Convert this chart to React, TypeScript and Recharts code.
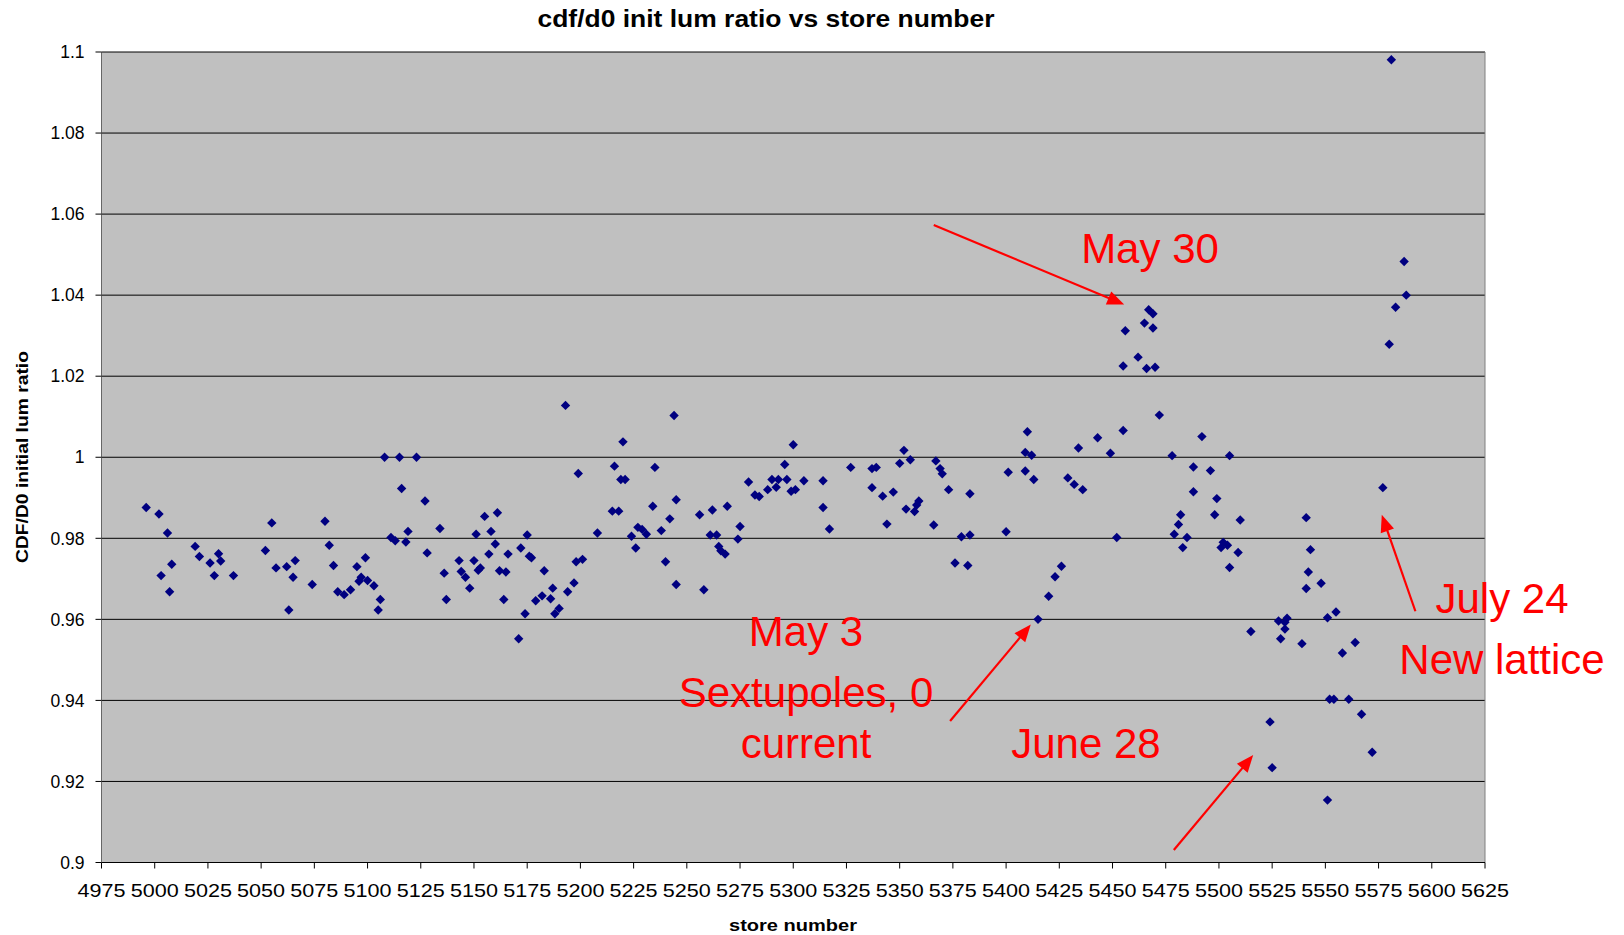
import {
  CartesianGrid,
  ReferenceLine,
  Scatter,
  ScatterChart,
  XAxis,
  YAxis,
} from "recharts";

const storeNumbers = [
  4996, 5002, 5006, 5003, 5008, 5007, 5019, 5021, 5026, 5030, 5031, 5028, 5037,
  5052, 5055, 5057, 5062, 5066, 5065, 5063, 5074, 5080, 5082, 5084, 5086,
  5089, 5092, 5095, 5099, 5096, 5097, 5100, 5103, 5106, 5105, 5108, 5115, 5123,
  5116, 5127, 5111, 5113, 5118, 5119, 5134, 5128, 5136, 5137, 5143, 5144, 5146,
  5148, 5150, 5151, 5152, 5153, 5155, 5158, 5161, 5160, 5157, 5166, 5162, 5165,
  5164, 5172, 5175, 5176, 5177, 5183, 5187, 5186, 5182, 5179, 5174, 5171, 5190,
  5188, 5193, 5194,
  5197, 5198, 5201, 5199, 5208, 5216, 5220, 5219, 5221, 5215, 5218, 5224, 5226,
  5227, 5229, 5231, 5234, 5235, 5238, 5240, 5242, 5244, 5245, 5245, 5256, 5258,
  5261, 5262, 5264, 5265, 5266, 5268, 5269, 5274, 5275, 5279, 5282, 5284, 5288,
  5290, 5292, 5293, 5296, 5297, 5299, 5301, 5300,
  5305, 5314, 5314, 5317, 5327, 5337, 5337, 5339, 5342, 5344, 5347, 5350, 5352,
  5355, 5353, 5357, 5358, 5359, 5366, 5367, 5369, 5370, 5373, 5376, 5379, 5382,
  5383, 5383, 5400, 5401, 5409, 5409, 5410,
  5467, 5469, 5465, 5469, 5456, 5462, 5455, 5466, 5470, 5472, 5455, 5443, 5434,
  5449, 5412, 5413, 5429, 5432, 5436, 5492, 5478, 5505, 5488, 5496, 5488, 5499,
  5498, 5482, 5481, 5479, 5485, 5483, 5510, 5502, 5501, 5504, 5509, 5505, 5452,
  5426, 5423, 5420, 5415,
  5541, 5543, 5542, 5541, 5548, 5551, 5555, 5577, 5515, 5528, 5531, 5532, 5531,
  5529, 5539, 5558, 5564, 5552, 5554, 5561, 5567, 5524, 5572, 5525, 5551,
  5581, 5587, 5588, 5583, 5580,
];

const lumRatios = [
  0.9876, 0.986, 0.9813, 0.9708, 0.9736, 0.9668, 0.978, 0.9755, 0.9739, 0.9762,
  0.9744, 0.9708, 0.9708, 0.977, 0.9838, 0.9727, 0.973, 0.9745, 0.9704, 0.9623,
  0.9686, 0.9842, 0.9783, 0.9733, 0.9668,
  0.9661, 0.9673, 0.973, 0.9752, 0.9694, 0.9704, 0.9696, 0.9683, 0.9649, 0.9623,
  1.0, 1.0, 1.0, 0.9923, 0.9892, 0.9802, 0.9794, 0.9791, 0.9817, 0.9824, 0.9764,
  0.9714, 0.9649, 0.9745, 0.9718, 0.9704, 0.9677, 0.9745, 0.981, 0.9721, 0.9727,
  0.9854, 0.9817, 0.9863, 0.9786, 0.9761, 0.9761, 0.972, 0.9717, 0.9649, 0.9776,
  0.9808, 0.9756, 0.9752, 0.972, 0.9677, 0.9651, 0.9658, 0.9646, 0.9614, 0.9552,
  0.9627, 0.9614, 1.0128, 0.9668,
  0.969, 0.9742, 0.9748, 0.996, 0.9813, 0.9978, 1.0038, 0.9945, 0.9945, 0.9867,
  0.9867, 0.9805, 0.9776, 0.9827, 0.9822, 0.981, 0.9879, 0.9975, 0.9819, 0.9742,
  0.9848, 1.0103, 0.9895, 0.9686, 0.9858, 0.9673, 0.9808, 0.987, 0.9808, 0.978,
  0.9769, 0.9761, 0.9879, 0.9798, 0.9829, 0.9939, 0.9907, 0.9903, 0.992, 0.9945,
  0.9926, 0.9945, 0.9982, 0.9945, 0.9916, 0.992, 1.0031,
  0.9942, 0.9942, 0.9876, 0.9823, 0.9975, 0.9925, 0.9972, 0.9975, 0.9904, 0.9835,
  0.9914, 0.9985, 1.0017, 0.9994, 0.9872, 0.9866, 0.9882, 0.9892, 0.9833, 0.9991,
  0.9972, 0.9959, 0.992, 0.9739, 0.9804, 0.9733, 0.991, 0.9808, 0.9816, 0.9963,
  0.9966, 1.0012, 1.0063,
  1.0364, 1.0354, 1.0331, 1.0319, 1.0312, 1.0247, 1.0225, 1.0219, 1.0222, 1.0104,
  1.0066, 1.0048, 1.0023, 1.001, 1.0005, 0.9945, 0.9949, 0.9933, 0.992, 1.0051,
  1.0004, 1.0004, 0.9976, 0.9967, 0.9915, 0.9898, 0.9858, 0.9858, 0.9834, 0.981,
  0.9802, 0.9777, 0.9845, 0.979, 0.9777, 0.9783, 0.9765, 0.9728, 0.9802, 0.9731,
  0.9705, 0.9657, 0.96,
  0.9851, 0.9772, 0.9717, 0.9676, 0.9689, 0.9604, 0.9618, 0.9925, 0.957, 0.9596,
  0.9593, 0.9603, 0.9576, 0.9552, 0.954, 0.9517, 0.9543, 0.9403, 0.9403, 0.9403,
  0.9366, 0.9347, 0.9272, 0.9234, 0.9154,
  1.0981, 1.0483, 1.04, 1.037, 1.0279,
];

const xTicks = [
  4975, 5000, 5025, 5050, 5075, 5100, 5125, 5150, 5175, 5200, 5225, 5250, 5275,
  5300, 5325, 5350, 5375, 5400, 5425, 5450, 5475, 5500, 5525, 5550, 5575, 5600,
  5625,
];
const yTicks = [0.9, 0.92, 0.94, 0.96, 0.98, 1, 1.02, 1.04, 1.06, 1.08, 1.1];

// arrows: [tail, head] in data units
const arrowMay30 = [{ x: 5366, y: 1.0573 }, { x: 5455.5, y: 1.0377 }];
const arrowMay3 = [{ x: 5373.7, y: 0.9349 }, { x: 5411.6, y: 0.9587 }];
const arrowJune28 = [{ x: 5478.8, y: 0.9031 }, { x: 5516.1, y: 0.9265 }];
const arrowJuly24 = [{ x: 5592.3, y: 0.962 }, { x: 5576.5, y: 0.9858 }];

const points = storeNumbers.map((s, i) => ({ store: s, ratio: lumRatios[i] }));

const FONT = '"Liberation Sans", Arial, sans-serif';
const RED = "#FF0000";

function Diamond(props: any) {
  const { cx, cy } = props;
  const r = 4.7;
  return (
    <polygon
      points={`${cx},${cy - r} ${cx + r},${cy} ${cx},${cy + r} ${cx - r},${cy}`}
      fill="#000080"
    />
  );
}

function Arrow(props: any) {
  const { x1, y1, x2, y2 } = props;
  if (x1 == null || x2 == null) return <g />;
  const dx = x2 - x1;
  const dy = y2 - y1;
  const len = Math.sqrt(dx * dx + dy * dy);
  const ux = dx / len;
  const uy = dy / len;
  const hl = 17;
  const hw = 7;
  const bx = x2 - ux * hl;
  const by = y2 - uy * hl;
  return (
    <g>
      <line x1={x1} y1={y1} x2={bx + ux * 2} y2={by + uy * 2} stroke={RED} strokeWidth={2.2} />
      <polygon
        points={`${x2},${y2} ${bx - uy * hw},${by + ux * hw} ${bx + uy * hw},${by - ux * hw}`}
        fill={RED}
      />
    </g>
  );
}

function XTick(props: any) {
  const { x, y, payload } = props;
  return (
    <text
      x={x}
      y={y}
      dy="0.71em"
      textAnchor="middle"
      fontSize={19}
      textLength={48}
      lengthAdjust="spacingAndGlyphs"
      fill="#000"
    >
      {payload.value}
    </text>
  );
}

const fmtY = (v: number) => String(Number(v.toFixed(2)));

export default function App() {
  return (
    <div style={{ position: "absolute", left: 0, top: 0, width: 1624, height: 935, fontFamily: FONT, background: "#fff" }}>
      <ScatterChart width={1624} height={935} margin={{ top: 52, right: 139, bottom: 0, left: 0 }}>
        <CartesianGrid vertical={false} stroke="#000" fill="#C0C0C0" fillOpacity={1} />
        <XAxis
          type="number"
          dataKey="store"
          domain={[4975, 5625]}
          ticks={xTicks}
          interval={0}
          height={72.5}
          tickSize={6}
          tickMargin={15}
          tick={<XTick />}
          axisLine={{ stroke: "#000" }}
          tickLine={{ stroke: "#000" }}
          allowDataOverflow
        />
        <YAxis
          type="number"
          dataKey="ratio"
          domain={[0.9, 1.1]}
          ticks={yTicks}
          interval={0}
          width={101.5}
          tickSize={6}
          tickMargin={11}
          tickFormatter={fmtY}
          tick={{ fill: "#000", fontSize: 17.5 }}
          axisLine={{ stroke: "#666" }}
          tickLine={{ stroke: "#000" }}
          allowDataOverflow
        />
        <ReferenceLine x={5625} stroke="#808080" ifOverflow="visible" />
        <Scatter data={points} shape={<Diamond />} isAnimationActive={false} />
        <ReferenceLine segment={arrowMay30} ifOverflow="visible" shape={Arrow} />
        <ReferenceLine segment={arrowMay3} ifOverflow="visible" shape={Arrow} />
        <ReferenceLine segment={arrowJune28} ifOverflow="visible" shape={Arrow} />
        <ReferenceLine segment={arrowJuly24} ifOverflow="visible" shape={Arrow} />
      </ScatterChart>
      <svg
        width={1624}
        height={935}
        style={{ position: "absolute", left: 0, top: 0, pointerEvents: "none" }}
      >
        <text x={766} y={27} textAnchor="middle" fontSize={24} fontWeight="bold" textLength={457} lengthAdjust="spacingAndGlyphs">
          cdf/d0 init lum ratio vs store number
        </text>
        <text
          x={22}
          y={457}
          textAnchor="middle"
          dominantBaseline="central"
          fontSize={16.5}
          fontWeight="bold"
          textLength={212}
          lengthAdjust="spacingAndGlyphs"
          transform="rotate(-90 22 457)"
        >
          CDF/D0 initial lum ratio
        </text>
        <text x={793} y={931} textAnchor="middle" fontSize={17} fontWeight="bold" textLength={128} lengthAdjust="spacingAndGlyphs">
          store number
        </text>
        <g fill={RED} fontSize={42} textAnchor="middle">
          <text x={1150} y={263}>May 30</text>
          <text x={806} y={646}>May 3</text>
          <text x={806} y={707}>Sextupoles, 0</text>
          <text x={806} y={758}>current</text>
          <text x={1086} y={758}>June 28</text>
          <text x={1502} y={613}>July 24</text>
          <text x={1502} y={674}>New lattice</text>
        </g>
      </svg>
    </div>
  );
}
